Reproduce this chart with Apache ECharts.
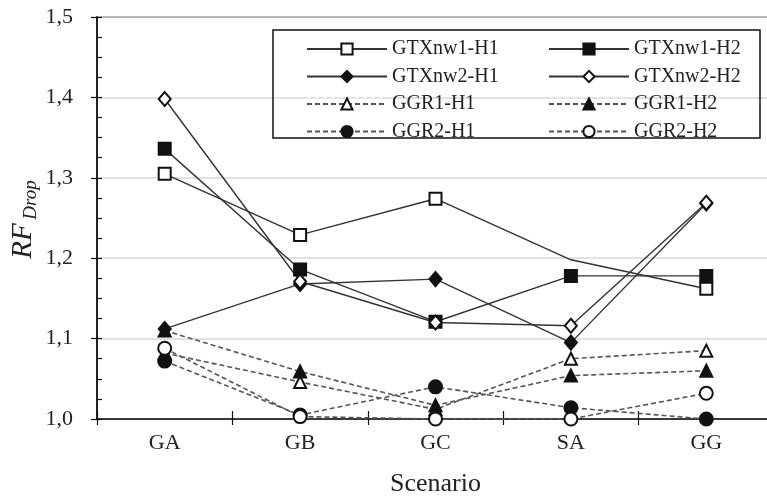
<!DOCTYPE html>
<html><head><meta charset="utf-8">
<script src="https://cdn.jsdelivr.net/npm/echarts@6/dist/echarts.min.js"></script>
<style>html,body{margin:0;padding:0;background:#fff}#c{width:767px;height:496px}</style>
</head><body><div id="c"></div>
<script>
const categories = ['GA','GB','GC','SA','GG'];
const yTicks = [1.0,1.1,1.2,1.3,1.4,1.5];
const GTXnw1_H1 = [1.305, 1.229, 1.274, 1.198, 1.162];
const GTXnw1_H2 = [1.336, 1.186, 1.121, 1.178, 1.178];
const GTXnw2_H1 = [1.112, 1.168, 1.174, 1.095, 1.268];
const GTXnw2_H2 = [1.398, 1.171, 1.120, 1.116, 1.269];
const GGR1_H1 = [1.082, 1.046, 1.012, 1.075, 1.085];
const GGR1_H2 = [1.110, 1.059, 1.017, 1.054, 1.060];
const GGR2_H1 = [1.072, 1.005, 1.040, 1.014, 1.000];
const GGR2_H2 = [1.088, 1.003, 1.000, 1.000, 1.032];
const hiddenMarker = {GTXnw1_H1: [3]};

const FONT = '"Liberation Serif", "Times New Roman", serif';
const solid = {color:'#333', width:1.4, type:'solid'};
const dashed = {color:'#555', width:1.6, type:[5,3]};
function ser(name, data, symbol, size, filled, line, hide) {
  return {
    name, type:'line', clip:false,
    data: data.map((v,i)=> (hide && hide.includes(i)) ? {value:v, symbol:'none'} : v),
    symbol, symbolSize:size, showAllSymbol:true,
    lineStyle: line,
    itemStyle: {color: filled ? '#111' : '#fff', borderColor:'#111', borderWidth:2},
    emphasis:{disabled:true}
  };
}
const series = [
  ser('GTXnw1-H1', GTXnw1_H1, 'rect', 12, false, solid, hiddenMarker.GTXnw1_H1),
  ser('GTXnw1-H2', GTXnw1_H2, 'rect', 12, true, solid),
  ser('GTXnw2-H1', GTXnw2_H1, 'diamond', [12,14], true, solid),
  ser('GTXnw2-H2', GTXnw2_H2, 'diamond', [12,14], false, solid),
  ser('GGR1-H1', GGR1_H1, 'triangle', 12, false, dashed),
  ser('GGR1-H2', GGR1_H2, 'triangle', 12, true, dashed),
  ser('GGR2-H1', GGR2_H1, 'circle', 13, true, dashed),
  ser('GGR2-H2', GGR2_H2, 'circle', 13, false, dashed)
];
const legendText = {fontFamily:FONT, fontSize:20, color:'#222', lineHeight:20};
const chart = echarts.init(document.getElementById('c'), null, {renderer:'canvas'});
chart.setOption({
  animation:false,
  backgroundColor:'#fff',
  grid:{left:97, right:-7, top:17, bottom:77, show:true, borderColor:'#222', borderWidth:1.5, backgroundColor:'#fff', outerBoundsMode:'none', containLabel:false},
  legend:[
    {data:['GTXnw1-H1','GTXnw2-H1','GGR1-H1','GGR2-H1'], orient:'vertical', left:301, top:34,
     itemWidth:80, itemHeight:14, itemGap:7.5, textStyle:legendText, selectedMode:false},
    {data:['GTXnw1-H2','GTXnw2-H2','GGR1-H2','GGR2-H2'], orient:'vertical', left:543, top:34,
     itemWidth:80, itemHeight:14, itemGap:7.5, textStyle:legendText, selectedMode:false}
  ],
  xAxis:[
    {type:'category', data:categories, boundaryGap:true,
     axisLine:{lineStyle:{color:'#111', width:1.5}},
     axisTick:{show:true, length:6, lineStyle:{color:'#111', width:1.2}},
     axisLabel:{fontFamily:FONT, fontSize:22, color:'#222', margin:13},
     name:'Scenario', nameLocation:'middle', nameGap:52,
     nameTextStyle:{fontFamily:FONT, fontSize:26, color:'#222'}},
    {type:'category', data:categories, boundaryGap:true, position:'bottom',
     axisLine:{show:false}, axisLabel:{show:false},
     axisTick:{show:true, inside:true, length:8, lineStyle:{color:'#111', width:1.2}}}
  ],
  yAxis:[
    {type:'value', min:yTicks[0], max:yTicks[yTicks.length-1], interval:0.1,
     axisLine:{show:true, lineStyle:{color:'#111', width:1.5}},
     axisTick:{show:true, length:6, lineStyle:{color:'#111', width:1.2}},
     axisLabel:{fontFamily:FONT, fontSize:22, color:'#222', margin:24,
       formatter:v=>v.toFixed(1).replace('.',',')},
     splitLine:{show:true, lineStyle:{color:'#d9d9d9', width:1.5}}},
    {type:'value', min:yTicks[0], max:yTicks[yTicks.length-1], interval:0.1, position:'left',
     axisLine:{show:false}, axisLabel:{show:false}, splitLine:{show:false},
     axisTick:{show:true, inside:true, length:5, lineStyle:{color:'#111', width:1.2}},
     minorTick:{show:true, splitNumber:4, length:5, lineStyle:{color:'#111', width:1.2}}}
  ],
  graphic:[
    {type:'rect', shape:{x:273, y:30, width:487, height:108}, style:{fill:'none', stroke:'#111', lineWidth:1.5}, z:100},
    {type:'text', x:23, y:241, rotation:Math.PI/2, style:{text:'RF', font:'italic 29px "Liberation Serif"', fill:'#222', textAlign:'center', textVerticalAlign:'middle'}},
    {type:'text', x:31, y:200, rotation:Math.PI/2, style:{text:'Drop', font:'italic 19px "Liberation Serif"', fill:'#222', textAlign:'center', textVerticalAlign:'middle'}}
  ],
  series
});
</script></body></html>
